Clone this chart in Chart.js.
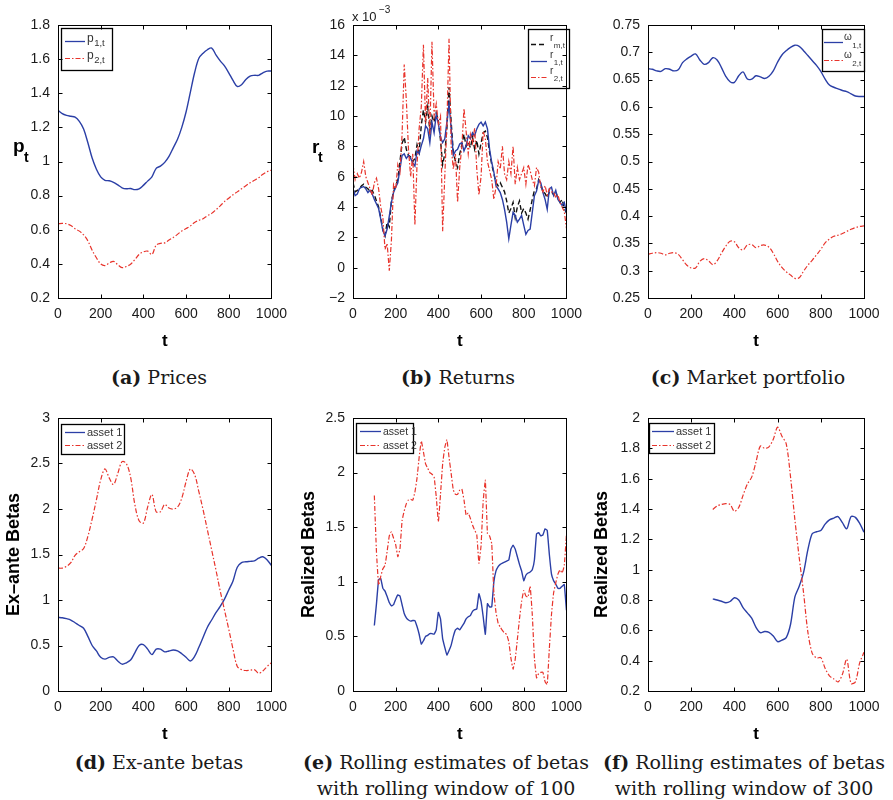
<!DOCTYPE html>
<html>
<head>
<meta charset="utf-8">
<script src="https://cdn.jsdelivr.net/npm/chart.js@4.4.0/dist/chart.umd.min.js"></script>
<style>
  body { margin: 0; background: #fff; }
  #page { position: relative; width: 893px; height: 800px; overflow: hidden; }
  canvas { position: absolute; }
  .cap { position: absolute; width: 320px; text-align: center; font-family: "DejaVu Serif", serif; font-size: 19px; line-height: 26px; color: #1a1a1a; white-space: nowrap; }
  .cap b { font-weight: bold; }
</style>
</head>
<body>
<div id="page">
  <canvas id="cPrices" width="295" height="355" style="left:0;top:0"></canvas>
  <canvas id="cReturns" width="295" height="355" style="left:295px;top:0"></canvas>
  <canvas id="cMarket" width="303" height="355" style="left:590px;top:0"></canvas>
  <canvas id="cExante" width="295" height="348" style="left:0;top:400px"></canvas>
  <canvas id="cRoll100" width="295" height="348" style="left:295px;top:400px"></canvas>
  <canvas id="cRoll300" width="303" height="348" style="left:590px;top:400px"></canvas>

  <div class="cap" style="left:-1px;top:364px"><b>(a)</b> Prices</div>
  <div class="cap" style="left:298px;top:364px"><b>(b)</b> Returns</div>
  <div class="cap" style="left:588px;top:364px"><b>(c)</b> Market portfolio</div>
  <div class="cap" style="left:-1px;top:749px"><b>(d)</b> Ex-ante betas</div>
  <div class="cap" style="left:286px;top:749px"><b>(e)</b> Rolling estimates of betas<br>with rolling window of 100</div>
  <div class="cap" style="left:584px;top:749px"><b>(f)</b> Rolling estimates of betas<br>with rolling window of 300</div>
</div>

<script>
// time grids
const t20 = [0,20,40,60,80,100,120,140,160,180,200,220,240,260,280,300,320,340,360,380,400,420,440,460,480,500,520,540,560,580,600,620,640,660,680,700,720,740,760,780,800,820,840,860,880,900,920,940,960,980,1000];
const t10 = [0,10,20,30,40,50,60,70,80,90,100,110,120,130,140,150,160,170,180,190,200,210,220,230,240,250,260,270,280,290,300,310,320,330,340,350,360,370,380,390,400,410,420,430,440,450,460,470,480,490,500,510,520,530,540,550,560,570,580,590,600,610,620,630,640,650,660,670,680,690,700,710,720,730,740,750,760,770,780,790,800,810,820,830,840,850,860,870,880,890,900,910,920,930,940,950,960,970,980,990,1000];

// (a) prices
const price1 = [1.30,1.28,1.27,1.265,1.26,1.235,1.19,1.11,1.02,0.955,0.91,0.89,0.887,0.878,0.863,0.846,0.84,0.842,0.835,0.84,0.86,0.885,0.91,0.96,0.973,0.995,1.03,1.08,1.13,1.20,1.29,1.405,1.52,1.605,1.635,1.655,1.665,1.625,1.59,1.56,1.52,1.475,1.44,1.45,1.48,1.50,1.505,1.505,1.52,1.53,1.53];
const price2 = [0.635,0.637,0.635,0.625,0.606,0.592,0.57,0.535,0.48,0.436,0.40,0.39,0.405,0.415,0.395,0.378,0.385,0.398,0.425,0.455,0.47,0.475,0.455,0.51,0.52,0.523,0.54,0.555,0.573,0.593,0.607,0.622,0.643,0.655,0.665,0.682,0.696,0.717,0.74,0.765,0.785,0.805,0.822,0.84,0.858,0.875,0.89,0.905,0.925,0.94,0.95];

// (b) returns, in units of 1e-3
const retMarket = [5.6,5.0,5.1,5.2,5.4,5.5,5.3,5.2,5.0,5.1, 4.8,4.4,4.0,3.3,2.5,2.1,3.0,2.7,4.4,5.0, 5.4,5.8,7.0,8.2,8.6,7.8,7.4,7.3,7.0,7.2, 8.1,7.6,9.4,10.4,9.6,10.6,9.0,10.0,9.6,10.2, 9.7,8.4,6.8,7.5,9.2,11.9,9.6,7.6,7.0,6.6, 7.5,8.1,8.8,8.0,8.3,7.9,8.6,7.8,8.4,7.5, 8.2,8.9,9.0,8.6,7.6,6.8,6.2,5.6,5.4,5.6, 5.3,5.0,4.4,3.6,3.9,4.3,3.3,4.0,4.4,3.6, 3.9,3.6,3.2,3.8,4.5,5.1,5.2,5.8,5.5,5.0, 4.9,4.6,5.0,5.0,4.8,5.0,4.6,4.3,4.5,3.9, 3.6];
const ret1 = [5.2,4.75,4.85,5.2,5.3,5.35,5.2,4.95,5.1,4.85, 4.5,4.2,3.9,3.2,2.45,2.1,2.55,3.4,4.3,4.95, 5.3,5.6,6.5,7.4,7.5,7.2,7.4,7.2,6.9,6.7, 7.7,7.5,8.05,8.5,9.35,9.15,8.25,9.6,8.9,10.1, 9.5,8.6,8.25,8.5,9.6,10.8,9.15,7.4,7.7,7.8, 8.15,8.25,7.7,8.05,8.7,8.5,8.9,8.7,9.15,9.45, 9.6,9.35,9.6,9.15,7.8,6.95,6.3,5.4,5.2,4.95, 4.5,3.85,3.0,1.9,2.8,3.65,3.45,3.0,3.2,3.45, 2.8,2.2,2.45,2.55,3.65,4.75,5.05,5.75,5.6,4.95, 4.5,3.85,5.2,5.3,4.75,5.1,4.5,4.3,4.1,4.3, 3.65];
const ret2 = [6.8,5.8,6.2,5.9,6.3,7.0,6.0,5.6,5.2,4.8, 5.6,5.9,5.2,4.0,3.3,1.2,1.6,-0.2,1.8,5.5, 5.2,6.8,6.3,8.8,13.4,11.0,7.8,6.0,7.5,2.8, 6.8,9.2,10.6,14.7,9.5,12.5,8.8,14.9,10.0,10.8, 9.5,10.0,2.4,6.0,9.5,15.1,8.0,6.5,7.5,4.3, 6.6,8.0,10.5,9.0,7.5,8.8,8.2,9.2,6.5,4.8, 6.0,9.0,8.5,7.0,6.4,5.8,4.5,5.3,7.0,6.5, 8.0,6.2,5.8,7.0,6.2,8.0,5.5,6.6,5.8,6.2, 6.6,5.5,6.8,6.4,5.8,5.4,6.6,6.3,5.3,5.0, 5.4,4.8,5.2,5.0,5.0,4.6,4.8,4.3,4.0,3.7, 2.6];

// (c) market portfolio weights
const weight1 = [0.670,0.669,0.666,0.665,0.670,0.669,0.666,0.668,0.681,0.688,0.693,0.697,0.686,0.678,0.681,0.690,0.686,0.672,0.656,0.646,0.645,0.657,0.664,0.651,0.651,0.657,0.655,0.652,0.656,0.666,0.682,0.695,0.703,0.709,0.713,0.711,0.703,0.694,0.685,0.676,0.665,0.651,0.640,0.636,0.633,0.630,0.628,0.624,0.620,0.619,0.619];
const weight2 = [0.330,0.332,0.333,0.332,0.329,0.332,0.333,0.330,0.320,0.310,0.305,0.305,0.317,0.322,0.318,0.311,0.318,0.332,0.345,0.354,0.353,0.342,0.338,0.347,0.348,0.342,0.346,0.347,0.343,0.332,0.317,0.306,0.298,0.292,0.286,0.287,0.299,0.310,0.319,0.329,0.339,0.351,0.358,0.363,0.365,0.368,0.372,0.376,0.379,0.381,0.382];

// (d) ex-ante betas
const exante1 = [0.81,0.805,0.795,0.78,0.75,0.72,0.69,0.60,0.50,0.44,0.37,0.35,0.37,0.375,0.33,0.295,0.31,0.34,0.42,0.50,0.51,0.46,0.40,0.46,0.46,0.43,0.44,0.45,0.44,0.41,0.37,0.33,0.38,0.48,0.59,0.70,0.78,0.86,0.93,1.01,1.11,1.21,1.36,1.41,1.42,1.425,1.43,1.46,1.475,1.44,1.38];
const exante2 = [1.35,1.35,1.37,1.41,1.49,1.53,1.565,1.70,1.89,2.10,2.32,2.44,2.34,2.27,2.39,2.52,2.50,2.35,2.05,1.87,1.845,2.02,2.16,1.97,1.97,2.05,2.01,2.0,2.02,2.12,2.30,2.44,2.38,2.19,1.99,1.77,1.55,1.33,1.10,0.89,0.68,0.46,0.27,0.235,0.225,0.228,0.235,0.195,0.22,0.27,0.31];

// (e) rolling window 100, t = 100..1000
const t100 = t10.slice(10);
const roll100a1 = [0.60,0.80,1.02,1.03,0.94,0.915,0.865,0.81,0.78,0.79, 0.84,0.88,0.87,0.79,0.71,0.67,0.65,0.64,0.645,0.645, 0.59,0.52,0.43,0.46,0.50,0.51,0.525,0.525,0.52,0.56, 0.72,0.66,0.48,0.40,0.33,0.37,0.42,0.50,0.56,0.575, 0.56,0.59,0.62,0.66,0.68,0.69,0.73,0.745,0.75,0.89, 0.82,0.68,0.52,0.80,0.77,0.77,1.0,1.10,1.14,1.16, 1.17,1.18,1.19,1.20,1.30,1.335,1.30,1.23,1.16,1.10, 1.01,1.06,1.08,1.09,1.11,1.20,1.44,1.45,1.42,1.43, 1.485,1.47,1.25,1.07,1.01,0.98,0.94,0.94,0.96,0.975, 0.74];
const roll100a2 = [1.79,1.27,0.97,1.05,1.12,1.15,1.28,1.42,1.457,1.40, 1.34,1.23,1.30,1.56,1.65,1.716,1.75,1.755,1.747,1.82, 1.95,2.14,2.29,2.19,2.08,2.04,2.0,1.985,1.96,1.78, 1.55,1.80,2.08,2.23,2.30,2.14,1.99,1.84,1.80,1.80, 1.84,1.85,1.75,1.61,1.63,1.58,1.52,1.473,1.43,1.17, 1.33,1.74,1.93,1.44,1.42,1.35,0.90,0.72,0.62,0.585, 0.555,0.53,0.518,0.45,0.30,0.20,0.29,0.47,0.66,0.82, 0.92,0.87,0.86,0.96,0.70,0.30,0.12,0.16,0.17,0.17, 0.085,0.06,0.39,0.70,0.90,0.99,1.07,1.11,1.08,1.15, 1.43];

// (f) rolling window 300, t = 300..1000
const t300 = t20.slice(15);
const roll300a1 = [0.807,0.80,0.792,0.782,0.79,0.815,0.80,0.75,0.715,0.68,0.62,0.585,0.592,0.587,0.562,0.525,0.535,0.552,0.64,0.82,0.89,0.98,1.13,1.237,1.25,1.258,1.30,1.328,1.34,1.35,1.31,1.27,1.35,1.345,1.305,1.247];
const roll300a2 = [1.397,1.42,1.43,1.436,1.43,1.385,1.41,1.49,1.565,1.61,1.71,1.815,1.80,1.81,1.86,1.94,1.88,1.83,1.61,1.33,1.08,0.85,0.59,0.45,0.418,0.42,0.35,0.30,0.28,0.26,0.31,0.41,0.25,0.26,0.385,0.455];

const BLUE = '#2b3fa6';
const RED = '#e8342c';
const BLACK = '#111111';
const DASHDOT = [5, 2, 1.5, 2];
const SANS = '"Liberation Sans", Arial, Helvetica, sans-serif';

function pts(ts, vals) {
    return ts.map((t, i) => ({ x: t, y: vals[i] }));
}

function fmt(v) {
    return String(+v.toFixed(3)).replace('-', '\u2212');
}

// axes box with inward tick marks, matlab style
const framePlugin = {
    id: 'frame',
    afterDraw(chart) {
        const { ctx, chartArea: a, scales } = chart;
        const L = Math.round(a.left) + 0.5, R = Math.round(a.right) + 0.5;
        const T = Math.round(a.top) + 0.5, B = Math.round(a.bottom) + 0.5;
        const tl = 4;
        ctx.save();
        ctx.strokeStyle = '#000';
        ctx.lineWidth = 1;
        ctx.strokeRect(L, T, R - L, B - T);
        ctx.beginPath();
        scales.x.ticks.forEach(t => {
            const px = Math.round(scales.x.getPixelForValue(t.value)) + 0.5;
            ctx.moveTo(px, B); ctx.lineTo(px, B - tl);
            ctx.moveTo(px, T); ctx.lineTo(px, T + tl);
        });
        scales.y.ticks.forEach(t => {
            const py = Math.round(scales.y.getPixelForValue(t.value)) + 0.5;
            ctx.moveTo(L, py); ctx.lineTo(L + tl, py);
            ctx.moveTo(R, py); ctx.lineTo(R - tl, py);
        });
        ctx.stroke();
        ctx.restore();
    }
};

// boxed legend with optional subscripts
function legendPlugin(cfg) {
    return {
        id: 'boxLegend',
        afterDatasetsDraw(chart) {
            const { ctx, chartArea: a } = chart;
            const x = Math.round(a.left + cfg.dx), y = Math.round(a.top + cfg.dy);
            ctx.save();
            ctx.fillStyle = '#fff';
            ctx.fillRect(x, y, cfg.w, cfg.h);
            ctx.strokeStyle = '#000';
            ctx.lineWidth = 1.3;
            ctx.strokeRect(x + 0.5, y + 0.5, cfg.w, cfg.h);
            cfg.items.forEach((it, i) => {
                const ry = y + cfg.rows[i];
                ctx.strokeStyle = it.color;
                ctx.lineWidth = it.width || 1.3;
                ctx.setLineDash(it.dash || []);
                ctx.beginPath();
                ctx.moveTo(x + cfg.line[0], ry + 0.5);
                ctx.lineTo(x + cfg.line[1], ry + 0.5);
                ctx.stroke();
                ctx.setLineDash([]);
                ctx.fillStyle = '#333';
                ctx.textBaseline = 'alphabetic';
                ctx.font = cfg.font;
                ctx.fillText(it.base, x + cfg.textX, ry + cfg.baseDy);
                if (it.sub) {
                    const w = ctx.measureText(it.base).width;
                    ctx.font = cfg.subFont;
                    ctx.fillText(it.sub, x + cfg.textX + w + 0.5, ry + cfg.subDy);
                }
            });
            ctx.restore();
        }
    };
}

// free text pieces in canvas coordinates (labels with sub/superscripts)
function notesPlugin(notes) {
    return {
        id: 'notes',
        afterDraw(chart) {
            const ctx = chart.ctx;
            ctx.save();
            ctx.textBaseline = 'alphabetic';
            notes.forEach(n => {
                ctx.font = n.font;
                ctx.fillStyle = n.color || '#000';
                ctx.fillText(n.text, n.x, n.y);
            });
            ctx.restore();
        }
    };
}

function makePanel(id, p) {
    const yScale = {
        type: 'linear',
        min: p.ymin, max: p.ymax,
        ticks: { stepSize: p.ystep, padding: 8, color: '#1a1a1a', font: { family: SANS, size: 14 }, autoSkip: false, callback: fmt },
        grid: { display: false, drawTicks: false },
        border: { display: false },
        afterFit: s => { s.width = 58; }
    };
    if (p.ytitle) {
        yScale.title = { display: true, text: p.ytitle, color: '#000', font: { family: SANS, size: 18, weight: 'bold' }, padding: { top: p.ytitlePad, bottom: 0 } };
    }
    return new Chart(document.getElementById(id), {
        type: 'line',
        data: { datasets: p.datasets },
        options: {
            responsive: false,
            animation: false,
            devicePixelRatio: 1,
            layout: { padding: p.padding },
            elements: { point: { radius: 0 } },
            plugins: { legend: { display: false }, tooltip: { enabled: false } },
            scales: {
                x: {
                    type: 'linear', min: 0, max: 1000,
                    ticks: { stepSize: 200, padding: 8, color: '#1a1a1a', font: { family: SANS, size: 14 }, autoSkip: false, maxRotation: 0, callback: v => String(v) },
                    grid: { display: false, drawTicks: false },
                    border: { display: false },
                    title: { display: true, text: 't', color: '#000', font: { family: SANS, size: 17, weight: 'bold' }, padding: { top: 0, bottom: 3 } },
                    afterFit: s => { s.height = 57; }
                },
                y: yScale
            }
        },
        plugins: [framePlugin, legendPlugin(p.legend), notesPlugin(p.notes || [])]
    });
}

function line(data, color, dash, width, order, tension) {
    return { data, borderColor: color, borderWidth: width, borderDash: dash, fill: false, order, tension: tension, pointRadius: 0 };
}

// (a) Prices
makePanel('cPrices', {
    padding: { top: 25, right: 21, bottom: 0, left: 0 },
    ymin: 0.2, ymax: 1.8, ystep: 0.2,
    datasets: [
        line(pts(t20, price1), BLUE, [], 1.4, 1, 0.35),
        line(pts(t20, price2), RED, DASHDOT, 1.2, 0, 0.35)
    ],
    legend: {
        dx: 3, dy: 3, w: 51, h: 42, rows: [13, 30], line: [4, 24], textX: 26,
        font: '12px ' + SANS, subFont: '9.5px ' + SANS, baseDy: 1, subDy: 5,
        items: [{ base: 'p', sub: '1,t', color: BLUE }, { base: 'p', sub: '2,t', color: RED, dash: DASHDOT, width: 1.2 }]
    },
    notes: [
        { text: 'p', x: 13, y: 152, font: 'bold 19px ' + SANS },
        { text: 't', x: 24, y: 162, font: 'bold 14px ' + SANS }
    ]
});

// (b) Returns
makePanel('cReturns', {
    padding: { top: 25, right: 21, bottom: 0, left: 0 },
    ymin: -2, ymax: 16, ystep: 2,
    datasets: [
        line(pts(t10, retMarket), BLACK, [5, 3], 1.4, 2, 0),
        line(pts(t10, ret1), BLUE, [], 1.4, 1, 0),
        line(pts(t10, ret2), RED, DASHDOT, 1.2, 0, 0)
    ],
    legend: {
        dx: 175, dy: 4, w: 41, h: 59, rows: [15, 32, 48], line: [3, 19], textX: 22,
        font: '10px ' + SANS, subFont: '8px ' + SANS, baseDy: -3, subDy: 4,
        items: [
            { base: 'r', sub: 'm,t', color: BLACK, dash: [5, 3] },
            { base: 'r', sub: '1,t', color: BLUE },
            { base: 'r', sub: '2,t', color: RED, dash: DASHDOT, width: 1.2 }
        ]
    },
    notes: [
        { text: 'r', x: 17, y: 153, font: 'bold 19px ' + SANS },
        { text: 't', x: 23, y: 162, font: 'bold 14px ' + SANS },
        { text: 'x 10', x: 57, y: 21, font: '13px ' + SANS, color: '#1a1a1a' },
        { text: '\u22123', x: 84, y: 13, font: '10px ' + SANS, color: '#1a1a1a' }
    ]
});

// (c) Market portfolio
makePanel('cMarket', {
    padding: { top: 25, right: 29, bottom: 0, left: 0 },
    ymin: 0.25, ymax: 0.75, ystep: 0.05,
    datasets: [
        line(pts(t20, weight1), BLUE, [], 1.4, 1, 0.35),
        line(pts(t20, weight2), RED, DASHDOT, 1.2, 0, 0.35)
    ],
    legend: {
        dx: 174, dy: 4, w: 42, h: 42, rows: [13, 31], line: [2, 21], textX: 22,
        font: '10px ' + SANS, subFont: '8px ' + SANS, baseDy: -2, subDy: 6,
        items: [{ base: '\u03c9', sub: '1,t', color: BLUE }, { base: '\u03c9', sub: '2,t', color: RED, dash: DASHDOT, width: 1.2 }]
    }
});

// (d) Ex-ante betas
makePanel('cExante', {
    padding: { top: 18, right: 21, bottom: 0, left: 0 },
    ymin: 0, ymax: 3, ystep: 0.5,
    ytitle: 'Ex\u2013ante Betas', ytitlePad: 3,
    datasets: [
        line(pts(t20, exante1), BLUE, [], 1.4, 1, 0.35),
        line(pts(t20, exante2), RED, DASHDOT, 1.2, 0, 0.35)
    ],
    legend: {
        dx: 3, dy: 6, w: 63, h: 30, rows: [8, 21], line: [4, 24], textX: 26,
        font: '11px ' + SANS, subFont: '8px ' + SANS, baseDy: 4, subDy: 4,
        items: [{ base: 'asset 1', color: BLUE }, { base: 'asset 2', color: RED, dash: DASHDOT, width: 1.2 }]
    }
});

// (e) Rolling window 100
makePanel('cRoll100', {
    padding: { top: 18, right: 21, bottom: 0, left: 0 },
    ymin: 0, ymax: 2.5, ystep: 0.5,
    ytitle: 'Realized Betas', ytitlePad: 3,
    datasets: [
        line(pts(t100, roll100a1), BLUE, [], 1.4, 1, 0.1),
        line(pts(t100, roll100a2), RED, DASHDOT, 1.2, 0, 0.1)
    ],
    legend: {
        dx: 3, dy: 5, w: 57, h: 30, rows: [8, 22], line: [4, 25], textX: 27,
        font: '10.5px ' + SANS, subFont: '8px ' + SANS, baseDy: 4, subDy: 4,
        items: [{ base: 'asset 1', color: BLUE }, { base: 'asset 2', color: RED, dash: DASHDOT, width: 1.2 }]
    }
});

// (f) Rolling window 300
makePanel('cRoll300', {
    padding: { top: 18, right: 29, bottom: 0, left: 0 },
    ymin: 0.2, ymax: 2, ystep: 0.2,
    ytitle: 'Realized Betas', ytitlePad: 1,
    datasets: [
        line(pts(t300, roll300a1), BLUE, [], 1.4, 1, 0.3),
        line(pts(t300, roll300a2), RED, DASHDOT, 1.2, 0, 0.3)
    ],
    legend: {
        dx: 1, dy: 5, w: 65, h: 30, rows: [8, 22], line: [3, 25], textX: 27,
        font: '11px ' + SANS, subFont: '8px ' + SANS, baseDy: 4, subDy: 4,
        items: [{ base: 'asset 1', color: BLUE }, { base: 'asset 2', color: RED, dash: DASHDOT, width: 1.2 }]
    }
});
</script>
</body>
</html>
